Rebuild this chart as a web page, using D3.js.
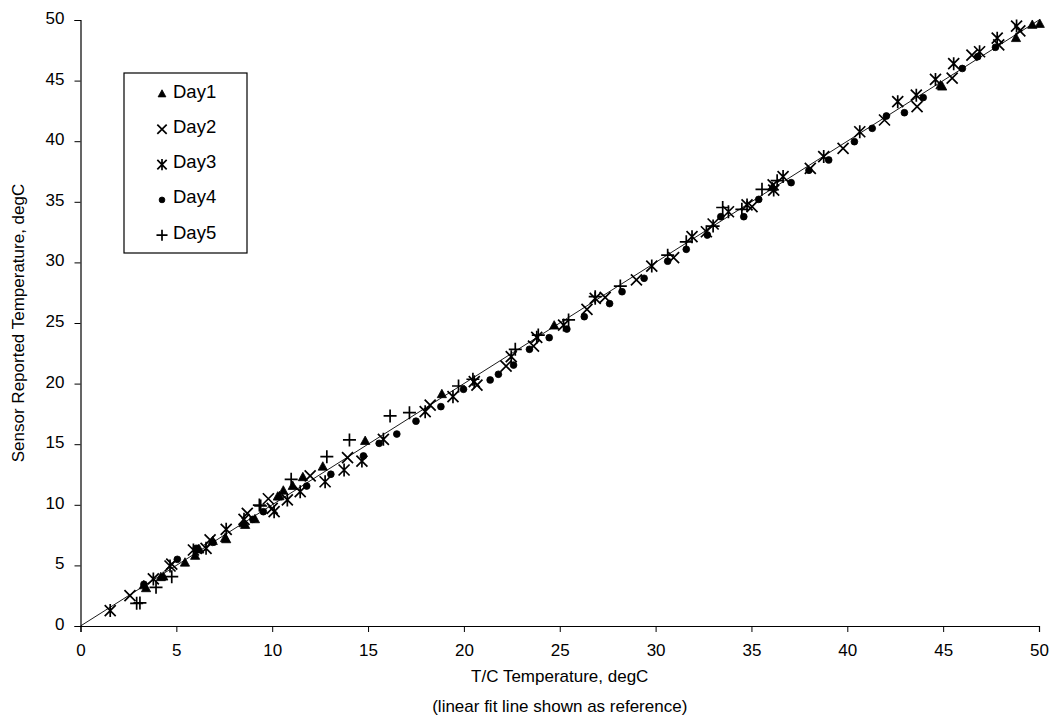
<!DOCTYPE html>
<html>
<head>
<meta charset="utf-8">
<script src="https://cdn.jsdelivr.net/npm/d3@7"></script>
<style>
  body { margin: 0; background: #fff; }
  text { font-family: "Liberation Sans", Arial, sans-serif; fill: #000; }
</style>
</head>
<body>
<div id="chart"></div>
<script>
// readings: [T/C temperature, sensor reported temperature]
const day1 = [[3.3,3.35],[3.42,3.11],[4.19,4.02],[4.32,4.07],[5.45,5.22],[5.98,5.78],[6.2,6.3],[6.9,7.0],[7.54,7.24],[7.6,7.15],
  [8.5,8.47],[8.59,8.33],[9.1,8.8],[10.29,10.67],[10.38,10.7],[10.58,11.16],[11.07,11.55],[11.6,12.27],[12.64,13.14],
  [14.85,15.26],[18.85,19.12],[24.71,24.78],[36.1,36.2],[44.86,44.6],[44.95,44.5],[48.8,48.5],[49.65,49.59],[50.04,49.67]];
const day2 = [[2.58,2.5],[4.76,5.1],[6.76,7.1],[8.7,9.3],[9.8,10.5],[10.0,9.7],[11.98,12.38],[13.93,13.89],[18.24,18.23],
  [20.68,19.88],[22.2,21.45],[23.63,23.1],[26.42,26.13],[27.37,27.12],[29.0,28.55],[30.94,30.39],[33.0,33.17],[35.03,34.6],
  [36.13,36.39],[38.07,37.76],[39.78,39.41],[41.94,41.75],[43.64,42.85],[45.47,45.2],[46.5,47.1],[47.9,47.94],[49.0,49.1]];
const day3 = [[1.55,1.27],[3.8,3.88],[4.67,4.95],[5.89,6.27],[6.55,6.41],[7.6,7.98],[8.53,8.8],[10.1,9.43],[10.79,10.4],
  [11.46,11.08],[12.76,11.9],[13.75,12.87],[14.68,13.61],[15.8,15.4],[17.98,17.68],[19.43,18.92],[20.54,20.16],[22.47,22.22],
  [23.8,23.82],[25.2,24.83],[26.85,27.04],[29.8,29.7],[31.9,32.12],[32.65,32.53],[33.8,34.18],[34.77,34.74],[36.16,35.97],
  [36.65,37.08],[38.77,38.73],[40.65,40.78],[42.63,43.26],[43.6,43.8],[44.6,45.1],[45.55,46.4],[46.9,47.38],[47.82,48.5],[48.83,49.5]];
const day4 = [[3.31,3.44],[5.05,5.5],[6.03,6.41],[6.9,6.9],[8.99,8.8],[9.54,9.43],[11.8,11.55],[13.06,12.52],[14.76,14.03],
  [15.58,15.07],[16.5,15.84],[17.5,16.9],[18.8,18.1],[19.98,19.53],[21.37,20.3],[21.8,20.77],[22.59,21.53],[23.42,22.83],
  [24.45,23.79],[25.37,24.5],[26.28,25.52],[27.6,26.6],[28.25,27.58],[29.4,28.69],[30.63,30.1],[31.6,31.08],[32.7,32.26],
  [33.4,33.77],[34.6,33.77],[35.38,35.2],[37.07,36.58],[38.0,37.6],[39.03,38.45],[40.37,39.96],[41.3,41.06],[42.04,42.08],
  [42.98,42.35],[43.96,43.6],[46.0,46.0],[46.8,46.97],[47.73,47.75]];
const day5 = [[2.93,1.87],[3.1,1.9],[3.94,3.19],[4.76,4.07],[9.33,9.98],[9.4,9.9],[10.99,12.1],[12.85,13.97],[14.03,15.35],
  [16.15,17.33],[17.16,17.6],[19.72,19.8],[20.47,20.36],[22.68,22.83],[23.88,24.0],[25.46,25.25],[26.85,27.17],[28.16,28.05],
  [30.63,30.6],[31.6,31.7],[33.0,33.0],[33.5,34.53],[34.5,34.38],[35.55,36.03],[36.34,36.74]];

const seriesNames = ['Day1', 'Day2', 'Day3', 'Day4', 'Day5'];
const seriesData = [day1, day2, day3, day4, day5];
const xTicks = [0, 5, 10, 15, 20, 25, 30, 35, 40, 45, 50];
const yTicks = [0, 5, 10, 15, 20, 25, 30, 35, 40, 45, 50];
const fitLine = [[0, 0], [50, 50]];

const width = 1052, height = 717;
const margin = { top: 20, right: 13, bottom: 91, left: 80.5 };
const font = '"Liberation Sans", Arial, sans-serif';

const svg = d3.select('#chart').append('svg')
  .attr('width', width).attr('height', height);

const x = d3.scaleLinear().domain([0, 50]).range([margin.left, width - margin.right]);
const y = d3.scaleLinear().domain([0, 50]).range([height - margin.bottom, margin.top]);

// marker shapes, drawn around 0,0
const shapes = {
  Day1: (s) => `M0,${-5 * s}L${4.6 * s},${3.4 * s}L${-4.6 * s},${3.4 * s}Z`,
  Day2: (s) => `M${-5.5 * s},${-5.5 * s}L${5.5 * s},${5.5 * s}M${5.5 * s},${-5.5 * s}L${-5.5 * s},${5.5 * s}`,
  Day3: (s) => `M${-5.5 * s},${-5.5 * s}L${5.5 * s},${5.5 * s}M${5.5 * s},${-5.5 * s}L${-5.5 * s},${5.5 * s}M0,${-6.5 * s}L0,${6.5 * s}`,
  Day4: (s) => d3.symbol(d3.symbolCircle, 36 * s * s)(),
  Day5: (s) => `M${-6.5 * s},0L${6.5 * s},0M0,${-6.5 * s}L0,${6.5 * s}`,
};
const filled = { Day1: true, Day2: false, Day3: false, Day4: true, Day5: false };

function drawMarker(sel, name, s) {
  sel.append('path')
    .attr('d', shapes[name](s))
    .attr('fill', filled[name] ? '#000' : 'none')
    .attr('stroke', '#000')
    .attr('stroke-width', filled[name] ? 0.8 : 1.7);
}

// axes
const xAxis = d3.axisBottom(x).tickValues(xTicks).tickSize(6).tickPadding(12);
const yAxis = d3.axisLeft(y).tickValues(yTicks).tickSize(6).tickPadding(6);

svg.append('g')
  .attr('transform', `translate(0,${y(0)})`)
  .call(xAxis)
  .call((g) => g.selectAll('text').attr('font-size', 17).attr('font-family', font))
  .call((g) => g.select('.domain').attr('stroke-width', 1.2));

svg.append('g')
  .attr('transform', `translate(${x(0)},0)`)
  .call(yAxis)
  .call((g) => g.selectAll('text').attr('font-size', 17).attr('font-family', font).attr('dx', -4).attr('dy', '0.2em'))
  .call((g) => g.select('.domain').attr('stroke-width', 1.2));

// fit line
svg.append('line')
  .attr('x1', x(fitLine[0][0])).attr('y1', y(fitLine[0][1]))
  .attr('x2', x(fitLine[1][0])).attr('y2', y(fitLine[1][1]))
  .attr('stroke', '#000').attr('stroke-width', 0.9);

// points
seriesNames.forEach((name, i) => {
  svg.append('g').selectAll('g')
    .data(seriesData[i])
    .join('g')
    .attr('transform', (d) => `translate(${x(d[0])},${y(d[1])})`)
    .each(function () { drawMarker(d3.select(this), name, 1); });
});

// axis titles
svg.append('text')
  .attr('x', (x(0) + x(50)) / 2).attr('y', 682)
  .attr('text-anchor', 'middle').attr('font-size', 17)
  .text('T/C Temperature, degC');
svg.append('text')
  .attr('x', (x(0) + x(50)) / 2).attr('y', 712)
  .attr('text-anchor', 'middle').attr('font-size', 17)
  .text('(linear fit line shown as reference)');
svg.append('text')
  .attr('transform', `translate(24,${(y(0) + y(50)) / 2}) rotate(-90)`)
  .attr('text-anchor', 'middle').attr('font-size', 17)
  .text('Sensor Reported Temperature, degC');

// legend
const legend = svg.append('g').attr('transform', 'translate(124,73)');
legend.append('rect')
  .attr('width', 123).attr('height', 180)
  .attr('fill', '#fff').attr('stroke', '#000').attr('stroke-width', 1.2);
seriesNames.forEach((name, i) => {
  const row = legend.append('g').attr('transform', `translate(38,${19 + i * 35.3})`);
  drawMarker(row.append('g').attr('transform', 'translate(0,2)'), name, 0.85);
  row.append('text').attr('x', 11).attr('y', 0).attr('dy', '0.3em')
    .attr('font-size', 18.5).text(name);
});
</script>
</body>
</html>
